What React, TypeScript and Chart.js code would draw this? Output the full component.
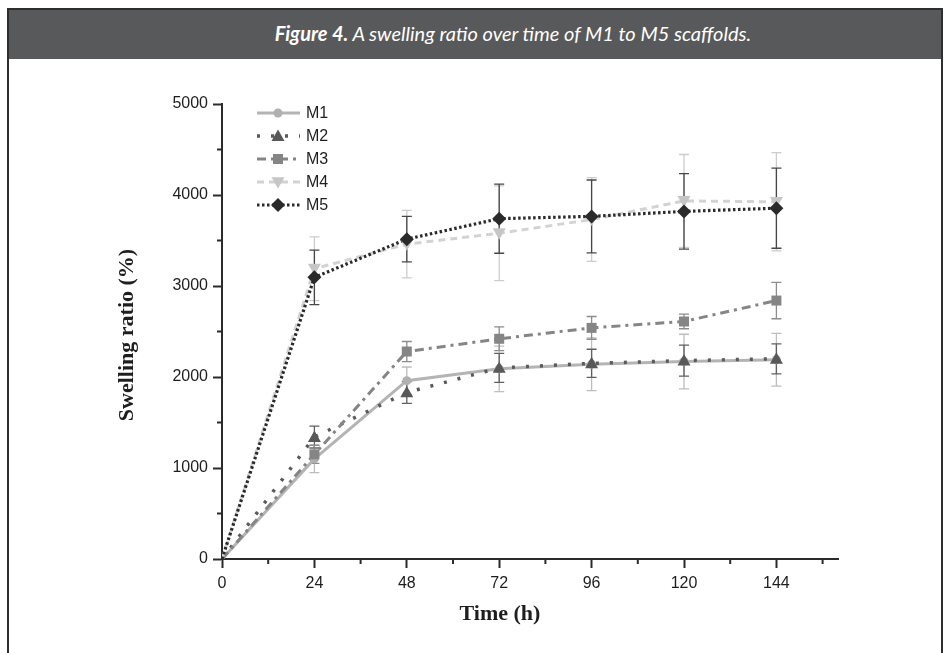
import React, { useEffect, useRef } from "react";
import { Chart, registerables } from "chart.js";

Chart.register(...registerables);

// ---- data ----
const hours = [0, 24, 48, 72, 96, 120, 144];
const xTickValues = [0, 12, 24, 36, 48, 60, 72, 84, 96, 108, 120, 132, 144, 156];
const yTickValues = [0, 500, 1000, 1500, 2000, 2500, 3000, 3500, 4000, 4500, 5000];
const seriesNames = ["M1", "M2", "M3", "M4", "M5"];

const m1 = [0, 1100, 1960, 2090, 2140, 2170, 2190];
const m1Err = [0, 150, 150, 250, 290, 300, 290];
const m2 = [0, 1340, 1830, 2100, 2150, 2180, 2200];
const m2Err = [0, 120, 120, 160, 155, 170, 165];
const m3 = [0, 1150, 2280, 2420, 2540, 2610, 2840];
const m3Err = [0, 100, 110, 130, 125, 80, 200];
const m4 = [0, 3190, 3460, 3580, 3730, 3935, 3925];
const m4Err = [0, 350, 370, 520, 460, 510, 540];
const m5 = [0, 3095, 3515, 3740, 3765, 3820, 3855];
const m5Err = [0, 300, 250, 380, 400, 415, 440];

const seriesValues = [m1, m2, m3, m4, m5];
const seriesErrors = [m1Err, m2Err, m3Err, m4Err, m5Err];

// ---- styles ----
const lineColors = ["#b4b4b4", "#5a5a5a", "#858585", "#d2d2d2", "#2a2a2a"];
const markerColors = ["#b0b0b0", "#585858", "#858585", "#c6c6c6", "#2a2a2a"];
const errColors = ["#bdbdbd", "#606060", "#8c8c8c", "#cccccc", "#474747"];
const lineWidths = [3, 3.5, 3, 3, 3.2];
const lineDashes: number[][] = [[], [3, 11], [9, 5, 3, 5], [7, 5], [2.5, 2.5]];
const markers = ["circle", "triangle", "rect", "triangleDown", "diamond"];
const markerSizes = [4.5, 6.5, 5, 6.5, 7];

function drawMarker(ctx: CanvasRenderingContext2D, kind: string, x: number, y: number, r: number, color: string) {
  ctx.save();
  ctx.fillStyle = color;
  ctx.setLineDash([]);
  ctx.beginPath();
  if (kind === "circle") {
    ctx.arc(x, y, r, 0, Math.PI * 2);
  } else if (kind === "triangle") {
    ctx.moveTo(x, y - r);
    ctx.lineTo(x + r, y + r * 0.75);
    ctx.lineTo(x - r, y + r * 0.75);
    ctx.closePath();
  } else if (kind === "triangleDown") {
    ctx.moveTo(x, y + r);
    ctx.lineTo(x + r, y - r * 0.75);
    ctx.lineTo(x - r, y - r * 0.75);
    ctx.closePath();
  } else if (kind === "rect") {
    ctx.rect(x - r, y - r, 2 * r, 2 * r);
  } else {
    ctx.moveTo(x, y - r);
    ctx.lineTo(x + r, y);
    ctx.lineTo(x, y + r);
    ctx.lineTo(x - r, y);
    ctx.closePath();
  }
  ctx.fill();
  ctx.restore();
}

const decorPlugin = {
  id: "decor",
  beforeDatasetsDraw(chart: any) {
    const ctx = chart.ctx as CanvasRenderingContext2D;
    const ys = chart.scales.y;
    ctx.save();
    ctx.lineWidth = 1.3;
    ctx.setLineDash([]);
    seriesValues.forEach((vals, si) => {
      const meta = chart.getDatasetMeta(si);
      ctx.strokeStyle = errColors[si];
      vals.forEach((v, j) => {
        const e = seriesErrors[si][j];
        if (!e) return;
        const x = meta.data[j].x;
        const yt = ys.getPixelForValue(v + e);
        const yb = ys.getPixelForValue(v - e);
        ctx.beginPath();
        ctx.moveTo(x, yt);
        ctx.lineTo(x, yb);
        ctx.moveTo(x - 5, yt);
        ctx.lineTo(x + 5, yt);
        ctx.moveTo(x - 5, yb);
        ctx.lineTo(x + 5, yb);
        ctx.stroke();
      });
    });
    ctx.restore();
  },
  afterDatasetsDraw(chart: any) {
    const ctx = chart.ctx as CanvasRenderingContext2D;
    const xs = chart.scales.x;
    const ys = chart.scales.y;
    const area = chart.chartArea;
    seriesValues.forEach((vals, si) => {
      const meta = chart.getDatasetMeta(si);
      vals.forEach((v, j) => {
        if (j === 0) return;
        const p = meta.data[j];
        drawMarker(ctx, markers[si], p.x, p.y, markerSizes[si], markerColors[si]);
      });
    });
    ctx.save();
    ctx.strokeStyle = "#2b2b2b";
    ctx.lineWidth = 2;
    ctx.setLineDash([]);
    xTickValues.forEach((v) => {
      if (v % 24 === 0) return;
      const px = xs.getPixelForValue(v);
      ctx.beginPath();
      ctx.moveTo(px, area.bottom);
      ctx.lineTo(px, area.bottom + 5);
      ctx.stroke();
    });
    yTickValues.forEach((v) => {
      if (v % 1000 === 0) return;
      const py = ys.getPixelForValue(v);
      ctx.beginPath();
      ctx.moveTo(area.left - 5, py);
      ctx.lineTo(area.left, py);
      ctx.stroke();
    });
    ctx.restore();
    ctx.save();
    ctx.fillStyle = "#1e1e1e";
    ctx.font = "bold 22px 'Liberation Serif', 'Times New Roman', serif";
    ctx.textAlign = "center";
    ctx.textBaseline = "middle";
    ctx.fillText("Time (h)", 500, 614);
    ctx.translate(127, 335);
    ctx.rotate(-Math.PI / 2);
    ctx.fillText("Swelling ratio (%)", 0, 0);
    ctx.restore();
    ctx.save();
    seriesNames.forEach((name, si) => {
      const y = 113 + 23 * si;
      ctx.strokeStyle = lineColors[si];
      ctx.lineWidth = lineWidths[si];
      ctx.setLineDash(lineDashes[si]);
      ctx.beginPath();
      ctx.moveTo(257, y);
      ctx.lineTo(300, y);
      ctx.stroke();
      drawMarker(ctx, markers[si], 278, y, markerSizes[si], markerColors[si]);
      ctx.setLineDash([]);
      ctx.fillStyle = "#1e1e1e";
      ctx.font = "16px 'Liberation Sans', Arial, sans-serif";
      ctx.textAlign = "left";
      ctx.textBaseline = "middle";
      ctx.fillText(name, 306, y + 1);
    });
    ctx.restore();
  },
};

export default function App() {
  const canvasRef = useRef<HTMLCanvasElement | null>(null);

  useEffect(() => {
    const canvas = canvasRef.current;
    if (!canvas) return;
    const datasets = seriesNames.map((name, si) => ({
      label: name,
      data: hours.map((h, j) => ({ x: h, y: seriesValues[si][j] })),
      borderColor: lineColors[si],
      backgroundColor: lineColors[si],
      borderWidth: lineWidths[si],
      borderDash: lineDashes[si],
      pointRadius: 0,
      tension: 0,
      fill: false,
      order: 5 - si,
    }));
    const tickFont = { family: "'Liberation Sans', Arial, sans-serif", size: 16 };
    const chart = new Chart(canvas, {
      type: "line",
      data: { datasets },
      plugins: [decorPlugin],
      options: {
        animation: false,
        responsive: false,
        maintainAspectRatio: false,
        layout: { padding: { left: 0, right: 109, top: 104, bottom: 0 } },
        plugins: { legend: { display: false }, tooltip: { enabled: false } },
        scales: {
          x: {
            type: "linear",
            min: 0,
            max: 160,
            afterBuildTicks: (scale: any) => {
              scale.ticks = xTickValues.map((v) => ({ value: v }));
            },
            afterFit: (scale: any) => {
              scale.height = 94;
            },
            ticks: {
              autoSkip: false,
              maxRotation: 0,
              padding: 6,
              color: "#1e1e1e",
              font: tickFont,
              callback: (v: any) => (Number(v) % 24 === 0 ? String(v) : ""),
            },
            grid: {
              display: true,
              drawOnChartArea: false,
              drawTicks: true,
              tickLength: 9,
              tickWidth: 2,
              tickColor: (c: any) => (c.tick && c.tick.value % 24 === 0 ? "#2b2b2b" : "rgba(0,0,0,0)"),
            },
            border: { display: true, color: "#2b2b2b", width: 2 },
          },
          y: {
            type: "linear",
            min: 0,
            max: 5000,
            afterBuildTicks: (scale: any) => {
              scale.ticks = yTickValues.map((v) => ({ value: v }));
            },
            afterFit: (scale: any) => {
              scale.width = 222;
            },
            ticks: {
              autoSkip: false,
              padding: 5,
              color: "#1e1e1e",
              font: tickFont,
              callback: (v: any) => (Number(v) % 1000 === 0 ? String(v) : ""),
            },
            grid: {
              display: true,
              drawOnChartArea: false,
              drawTicks: true,
              tickLength: 9,
              tickWidth: 2,
              tickColor: (c: any) => (c.tick && c.tick.value % 1000 === 0 ? "#2b2b2b" : "rgba(0,0,0,0)"),
            },
            border: { display: true, color: "#2b2b2b", width: 2 },
          },
        },
      } as any,
    });
    return () => chart.destroy();
  }, []);

  return (
    <div style={{ position: "fixed", left: 0, top: 0, width: 947, height: 653, overflow: "hidden", background: "#ffffff" }}>
      <div
        style={{
          position: "absolute",
          left: 7,
          top: 8,
          width: 936,
          height: 720,
          border: "2px solid #2e2e2e",
          boxSizing: "border-box",
        }}
      >
        <div
          style={{
            height: 49,
            background: "#58595b",
            color: "#ffffff",
            fontFamily: "Lato, 'Open Sans', sans-serif",
            fontStyle: "italic",
            fontSize: 20,
            lineHeight: "47px",
            textAlign: "center",
            whiteSpace: "nowrap",
            paddingLeft: 76,
          }}
        >
          <b>Figure 4.</b> A swelling ratio over time of M1 to M5 scaffolds.
        </div>
      </div>
      <canvas
        ref={canvasRef}
        width={947}
        height={653}
        style={{ position: "absolute", left: 0, top: 0, width: 947, height: 653 }}
      />
    </div>
  );
}
